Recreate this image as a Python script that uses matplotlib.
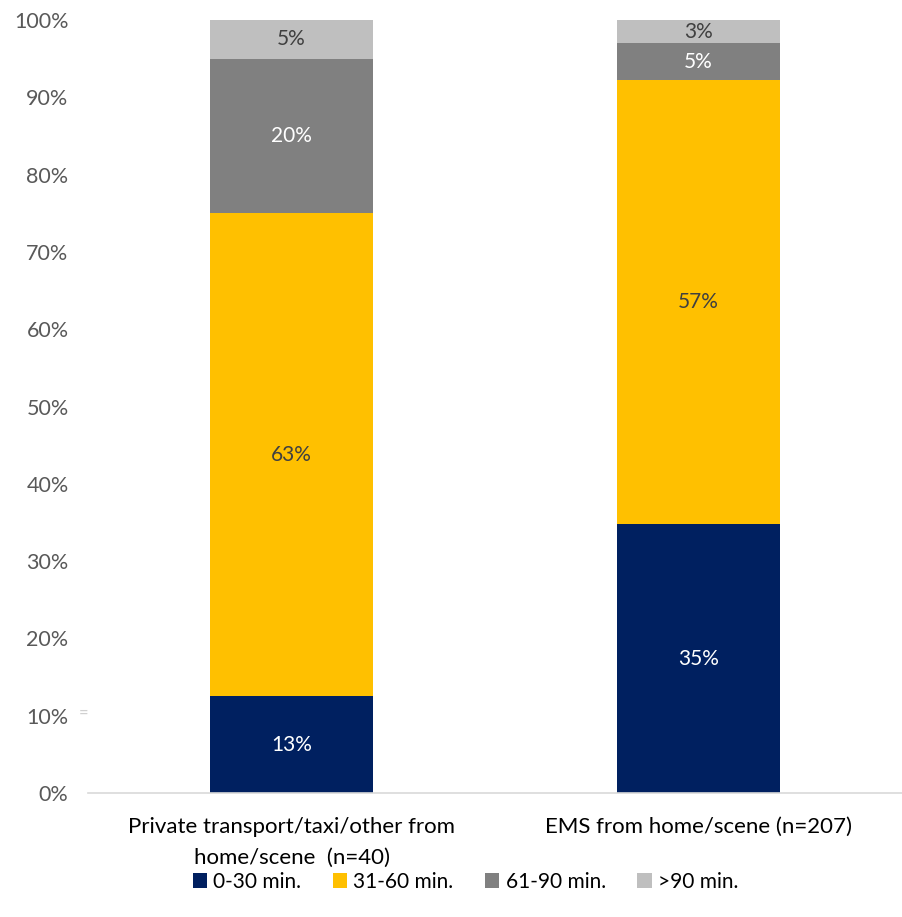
import matplotlib
matplotlib.use("Agg")
import matplotlib.pyplot as plt
import numpy as np

plt.rcParams['font.family'] = ['Lato', 'DejaVu Sans']

categories = ["Private transport/taxi/other from\nhome/scene  (n=40)", "EMS from home/scene (n=207)"]
series_names = ["0-30 min.", "31-60 min.", "61-90 min.", ">90 min."]
values = {
    "0-30 min.": [12.5, 34.8],
    "31-60 min.": [62.5, 57.4],
    "61-90 min.": [20.0, 4.8],
    ">90 min.": [5.0, 3.0],
}
labels = {
    "0-30 min.": ["13%", "35%"],
    "31-60 min.": ["63%", "57%"],
    "61-90 min.": ["20%", "5%"],
    ">90 min.": ["5%", "3%"],
}
colors = ["#002060", "#FFC000", "#808080", "#BFBFBF"]
text_colors = ["white", "#404040", "white", "#404040"]
yticks = [0, 10, 20, 30, 40, 50, 60, 70, 80, 90, 100]

fig = plt.figure(figsize=(9.02, 9.17), dpi=100)
ax = fig.add_axes([0.0976, 0.1352, 0.9024, 0.843])

x = np.arange(len(categories))
bottom = np.zeros(len(categories))
for i, name in enumerate(series_names):
    v = np.array(values[name])
    ax.bar(x, v, 0.4, bottom=bottom, color=colors[i], label=name, zorder=2)
    for j in range(len(categories)):
        ax.text(x[j], bottom[j] + v[j] / 2, labels[name][j], ha='center', va='center',
                fontsize=15, color=text_colors[i])
    bottom += v

ax.set_xlim(-0.5, 1.5)
ax.set_ylim(0, 100)
ax.set_yticks(yticks)
ax.set_yticklabels([f"{t}%" for t in yticks], fontsize=15.5, color="#595959")
ax.set_xticks(x)
ax.set_xticklabels(categories, fontsize=16, color="black", linespacing=1.7)
ax.tick_params(axis='both', length=0)
ax.tick_params(axis='y', pad=14)
ax.tick_params(axis='x', pad=17)
for s in ["top", "right", "left"]:
    ax.spines[s].set_visible(False)
ax.spines["bottom"].set_color("#D9D9D9")
ax.spines["bottom"].set_linewidth(1.2)

# small artifact mark near 10%
ax.text(-0.512, 10.4, "=", fontsize=12, color="#D0D0D0", ha='center', va='center', clip_on=False)

fig.legend(loc='lower center', bbox_to_anchor=(0.516, 0.0), ncol=4, frameon=False,
           fontsize=15, handlelength=0.7, handleheight=0.7, handletextpad=0.3,
           columnspacing=1.5, borderaxespad=0.8)

fig.savefig("out.png", dpi=100)
